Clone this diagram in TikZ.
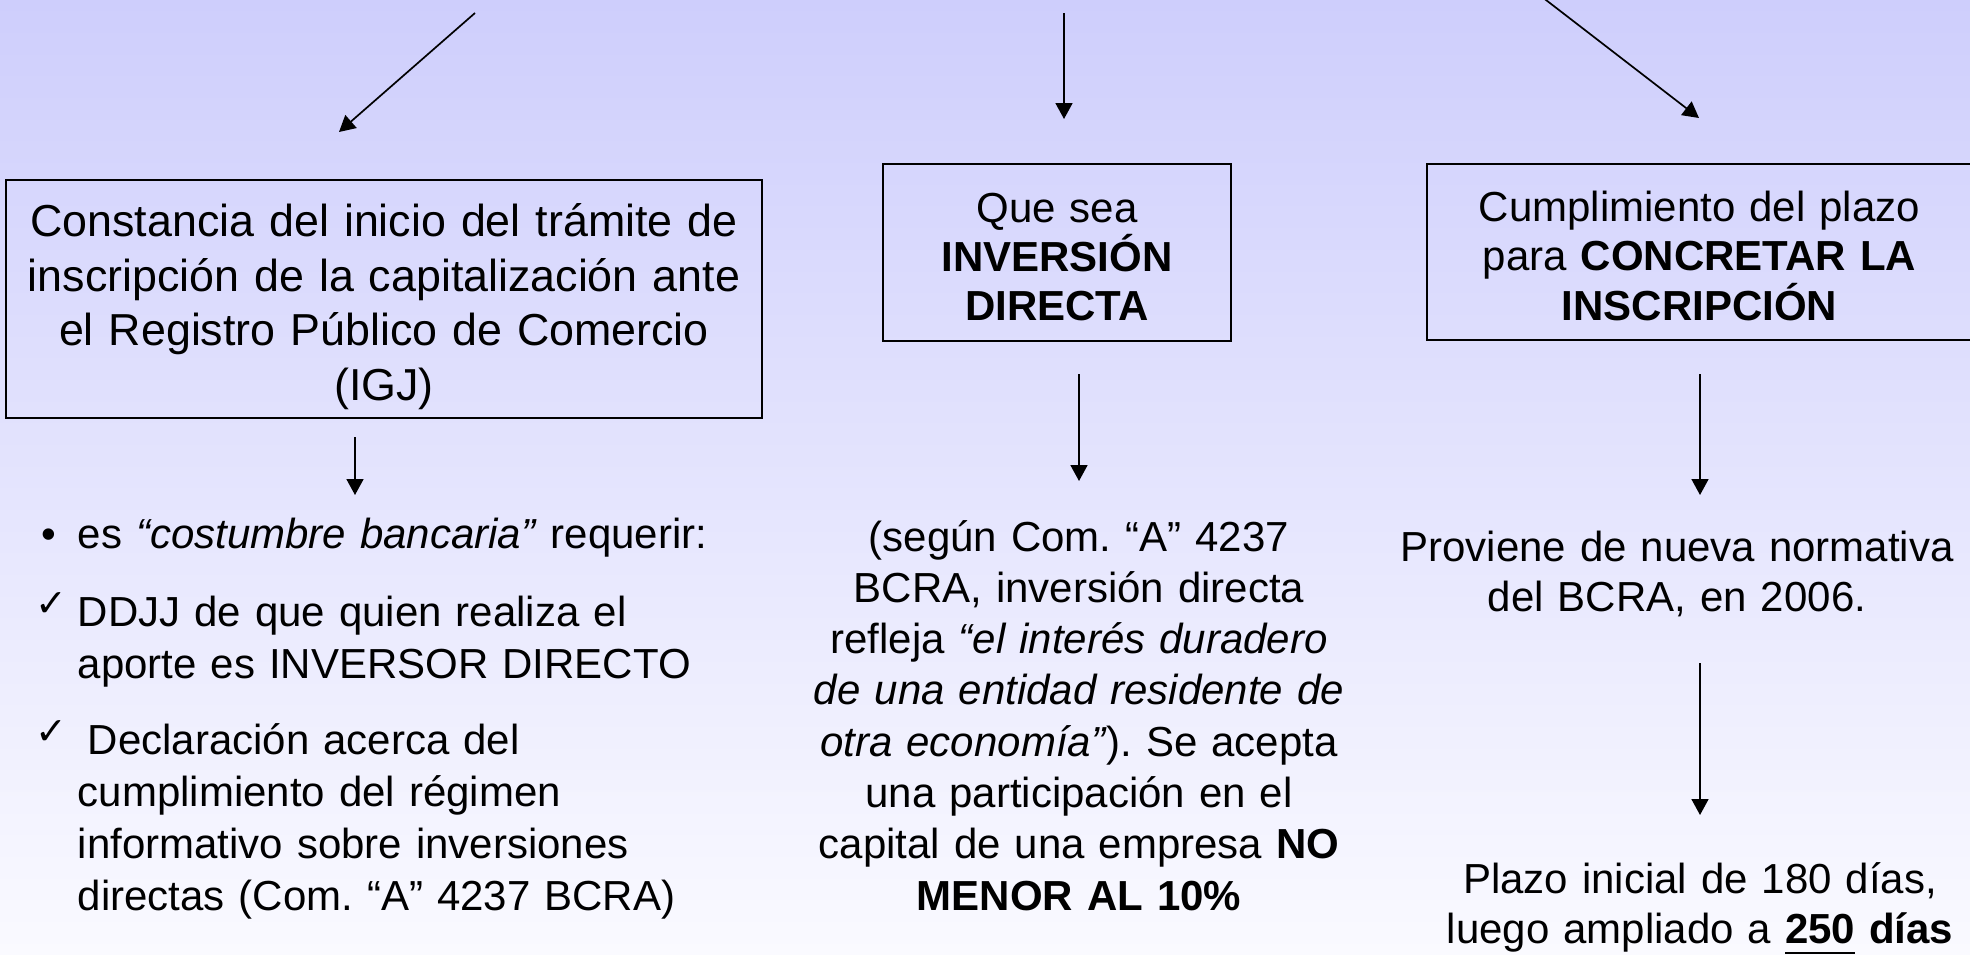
\documentclass[tikz,border=0pt]{standalone}
\usepackage{fontspec}
\setmainfont{Liberation Sans}
\newfontfamily\ckfont{DejaVu Sans}
\usetikzlibrary{arrows.meta}
\definecolor{bgtop}{RGB}{206,206,252}
\definecolor{bgbot}{RGB}{250,250,255}
\frenchspacing
\newcommand\ulbold[1]{\setbox0=\hbox{#1}\rlap{\rule[-5.5pt]{\wd0}{1.1pt}}\box0\relax}
\newcommand\ckmark{\makebox[0pt][r]{\raisebox{5pt}{\ckfont\fontsize{19}{19}\selectfont ✓}\hspace{5.5pt}}}
\newcommand\bulmark{\makebox[0pt][r]{•\hspace{11pt}}}
\begin{document}
\begin{tikzpicture}[x=0.5pt, y=-0.5pt, line width=0.85pt,
  arr/.style={-{Triangle[length=8pt,width=8.5pt]}},
  box/.style={draw, inner sep=0pt, align=center},
  bigtxt/.style={font=\fontsize{22.4}{27.35}\selectfont},
  boxtxt/.style={font=\fontsize{21}{24.6}\selectfont},
  lefttxt/.style={inner sep=0pt, anchor=base west, text width=340pt, align=left, font=\fontsize{21}{26}\selectfont},
  midtxt/.style={inner sep=0pt, anchor=base, text width=300pt, align=center, font=\fontsize{21}{25.65}\selectfont},
  righttxt/.style={inner sep=0pt, anchor=base, text width=300pt, align=center, font=\fontsize{21}{25}\selectfont}]
\useasboundingbox (0,0) rectangle (1970,954);
\shade[top color=bgtop, bottom color=bgbot] (0,0) rectangle (1970,954);
\clip (0,0) rectangle (1970,954);

% boxes
\node[box, bigtxt, minimum width=378pt, minimum height=119pt, text width=370pt] (b1) at (384,299)
  {\rule{0pt}{24pt}Constancia del inicio del trámite de\\inscripción de la capitalización ante\\el Registro Público de Comercio\\(IGJ)};
\node[box, boxtxt, minimum width=174pt, minimum height=88.5pt, text width=170pt] (b2) at (1057,252.5)
  {\rule{0pt}{19pt}Que sea\\\textbf{INVERSIÓN}\\\textbf{DIRECTA}};
\node[box, boxtxt, minimum width=272.5pt, minimum height=88pt, text width=265pt] (b3) at (1699.5,252)
  {\rule{0pt}{19pt}Cumplimiento del plazo\\para \textbf{CONCRETAR LA}\\\textbf{INSCRIPCIÓN}};

% left column text
\node[lefttxt] (l1) at (77,548) {\bulmark es \textit{“costumbre bancaria”} requerir:};
\node[lefttxt] (l2) at (77,626) {\ckmark DDJJ de que quien realiza el\\aporte es INVERSOR DIRECTO};
\node[lefttxt] (l3) at (77,754) {\ckmark\hspace*{5pt}Declaración acerca del\\cumplimiento del régimen\\informativo sobre inversiones\\directas (Com. “A” 4237 BCRA)};

% middle column text
\node[midtxt] (m1) at (1079,551) {(según Com. “A” 4237\\BCRA, inversión directa\\refleja \textit{“el interés duradero}\\\textit{de una entidad residente de}\\\textit{otra economía”}). Se acepta\\una participación en el\\capital de una empresa \textbf{NO}\\\textbf{MENOR AL 10\%}};

% right column text
\node[righttxt] (r1) at (1677,561) {Proviene de nueva normativa\\del BCRA, en 2006.};
\node[righttxt] (r2) at (1700,893) {Plazo inicial de 180 días,\\luego ampliado a \textbf{\ulbold{250} días}};

% connector end points
\coordinate (a1s) at (475,13);   \coordinate (a1e) at (339,132);
\coordinate (a2s) at (1064,13);  \coordinate (a2e) at (1064,119);
\coordinate (a3s) at (1533,-10); \coordinate (a3e) at (1699,118);
\coordinate (d1s) at (355,437);  \coordinate (d1e) at (355,495);
\coordinate (d2s) at (1079,374); \coordinate (d2e) at (1079,481);
\coordinate (d3s) at (1700,374); \coordinate (d3e) at (1700,495);
\coordinate (d4s) at (1700,663); \coordinate (d4e) at (1700,815);

\draw[arr] (a1s) -- (a1e);
\draw[arr] (a2s) -- (a2e);
\draw[arr] (a3s) -- (a3e);
\draw[arr] (d1s) -- (d1e);
\draw[arr] (d2s) -- (d2e);
\draw[arr] (d3s) -- (d3e);
\draw[arr] (d4s) -- (d4e);
\end{tikzpicture}
\end{document}
